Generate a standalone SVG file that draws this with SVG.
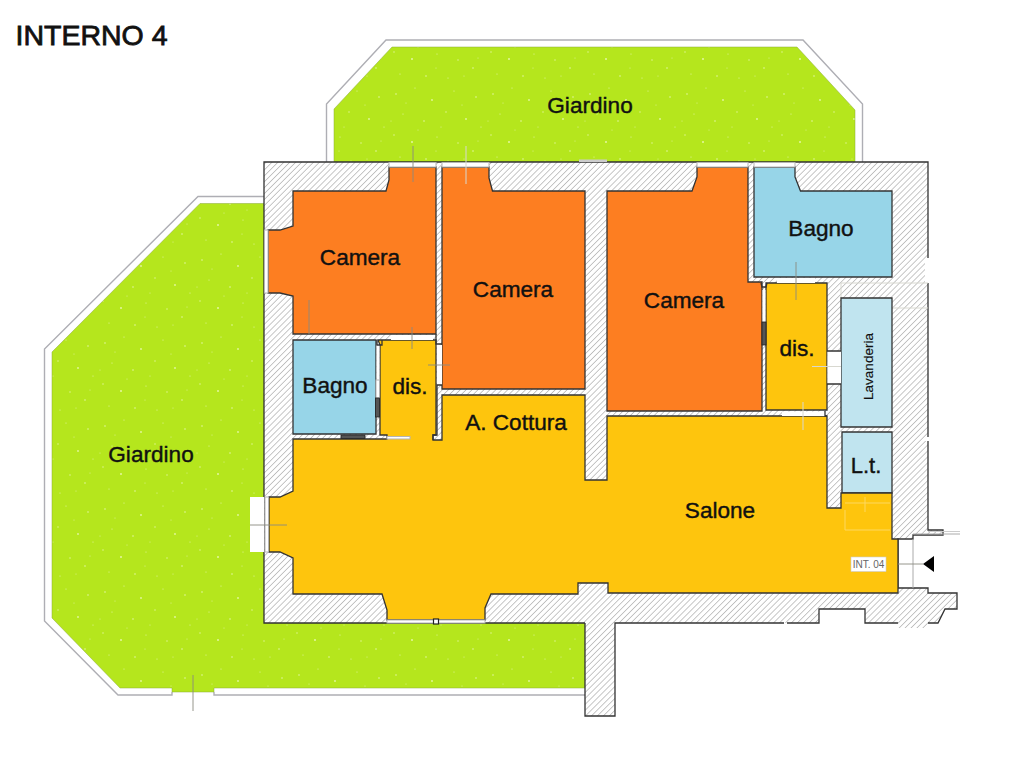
<svg xmlns="http://www.w3.org/2000/svg" width="1024" height="768" viewBox="0 0 1024 768">
<style>
text{font-family:"Liberation Sans",Arial,sans-serif;fill:#111;text-anchor:middle;font-size:22.600px;stroke:#111;stroke-width:.4}
.room{stroke:#333;stroke-width:1.3;stroke-linejoin:miter}
.orange{fill:#fd7e21}.yellow{fill:#fec50d}.blue{fill:#97d5e8}.pale{fill:#c0e4ef}
.garden{fill:url(#speckle);stroke:#8aa83a;stroke-width:.5}
.fence{fill:none;stroke:#aeaeb4;stroke-width:1.4}
.gap{fill:#fff;stroke:none}
.edge{fill:none;stroke:#333;stroke-width:1.3}
.tick{fill:none;stroke:#8a8a80;stroke-width:.9}
.lite{fill:none;stroke:#d8d8d0;stroke-width:1}
.glass{fill:#fff;stroke:#b5b5b5;stroke-width:1}
.dark{fill:#555;stroke:#222;stroke-width:.8}
.faint{fill:none;stroke:#fdd860;stroke-width:1}
</style>
<defs>
<pattern id="hatch" width="4.200" height="4.200" patternUnits="userSpaceOnUse" patternTransform="rotate(45)">
<rect width="4.200" height="4.200" fill="#fff"/><line x1="0" y1="0" x2="0" y2="4.200" stroke="#aaa" stroke-width="1.300"/>
</pattern>
<pattern id="speckle" width="97" height="83" patternUnits="userSpaceOnUse">
<rect width="97" height="83" fill="#b5e61d"/>
<g fill="#e4f7a0">
<circle cx="8" cy="11" r=".8"/><circle cx="27" cy="5" r=".6"/><circle cx="44" cy="17" r=".9"/><circle cx="66" cy="8" r=".6"/><circle cx="88" cy="14" r=".8"/><circle cx="15" cy="31" r=".6"/><circle cx="36" cy="38" r=".8"/><circle cx="58" cy="29" r=".7"/><circle cx="78" cy="36" r=".9"/><circle cx="93" cy="44" r=".6"/><circle cx="6" cy="52" r=".7"/><circle cx="24" cy="59" r="1"/><circle cx="49" cy="54" r=".6"/><circle cx="70" cy="60" r=".7"/><circle cx="85" cy="68" r=".8"/><circle cx="12" cy="74" r=".6"/><circle cx="38" cy="76" r=".8"/><circle cx="60" cy="78" r=".6"/><circle cx="18" cy="20" r=".5"/><circle cx="53" cy="44" r=".5"/><circle cx="74" cy="22" r=".5"/><circle cx="30" cy="47" r=".5"/><circle cx="90" cy="58" r=".5"/><circle cx="48" cy="68" r=".5"/><circle cx="3" cy="38" r=".5"/><circle cx="76" cy="76" r=".5"/>
</g>
</pattern>
</defs>

<text x="91.500" y="45" style="font-size:28.500px;stroke-width:.8">INTERNO 4</text>

<g id="gardens">
<path class="fence" d="M326.500,162V104L386,40H803L862.500,104V162"/>
<polygon class="garden" points="334,162 334,109 392,47 797,47 855,110 855,162"/>
<path class="fence" d="M264,196.500H198L44.500,349V621L118,695H172V692M214,692V695H585"/>
<polygon class="garden" points="264,203.500 200,203.500 52,352 52,618 120,688 172,688 172,692 214,692 214,688 585,688 585,623 264,623"/>
</g>

<g id="walls">
<polygon points="264,162 928,162 928,530 943,530 943,535 913,535 913,539 898,539 898,588 928,588 928,593 957,593 957,609 945,609 938,623 928,623 928,628 898,628 898,623 865,623 865,609 819,609 819,623 615,623 615,716 585,716 585,623 264,623" fill="url(#hatch)"/>
<path class="edge" d="M585,623H264V162H928V258M928,283V437M928,441V530H943V535H913V539H898V588H928V593H957V609H945L938,623H928M898,623H865V609H819V623H787M784,623H615V716H585V623"/>
<rect class="gap" x="925" y="258" width="8" height="25"/>
<rect class="gap" x="925" y="437" width="8" height="4"/>
<rect x="579" y="159.500" width="28" height="2.500" fill="#ccc"/>
<path class="lite" d="M841,283H928M892,308H928M841,283V298"/>
<line x1="913" y1="534" x2="960" y2="534" class="lite" style="stroke:#aaa"/>
<line x1="928" y1="531.500" x2="960" y2="531.500" class="lite" style="stroke:#ccc"/>
<line x1="913" y1="539" x2="913" y2="588" class="lite" style="stroke:#aaa"/>
</g>

<g id="rooms">
<polygon id="camera-1" class="room orange" points="386,191 389,180 389,167 436,167 436,334 293,334 293,296 280,293 268,293 268,230 280,230 293,226 293,191"/>
<polygon id="camera-2" class="room orange" points="442,167 489,167 489,178 492.500,191 585,191 585,389 442,389"/>
<polygon id="camera-3" class="room orange" points="607,191 692,191 697,177 697,167 748,167 748,282 762,282 762,411 607,411"/>
<polygon id="bagno-1" class="room blue" points="293,340 376,340 376,434 293,434"/>
<polygon id="bagno-2" class="room blue" points="754,167 795,167 795,177 800.500,191 892,191 892,277 754,277"/>
<polygon id="dis-2" class="room yellow" points="766,283 827,283 827,410 766,410"/>
<polygon id="lavanderia" class="room pale" points="841,298 892,298 892,427 841,427"/>
<polygon id="lt" class="room pale" points="842,432 892,432 892,493 842,493"/>
<polygon id="salone" class="room yellow" points="293,439 387,439 387,435 380,435 380,345 378,340 436,340 436,345 436,435 433,435 433,440 442,440 442,395 585,395 585,480 607,480 607,416 827,416 827,508 841,508 841,493 892,493 892,539 898,539 898,593 608,593 608,583 578,583 578,594 491,594 485,608 485,620 387,620 387,610 382,594 293,594 293,558 280,552 269,552 269,497 280,497 293,491"/>
</g>

<g id="openings">
<rect class="glass" x="389" y="162.500" width="47" height="4.500"/>
<rect class="glass" x="442" y="162.500" width="47" height="4.500"/>
<rect class="glass" x="697" y="162.500" width="51" height="4.500"/>
<rect class="glass" x="754" y="162.500" width="41" height="4.500"/>
<rect class="glass" x="264.500" y="230" width="3.500" height="63"/>
<rect class="glass" x="265" y="497" width="3.500" height="55"/>
<rect class="gap" x="250" y="497" width="14" height="55"/>
<rect class="glass" x="387" y="620" width="98" height="3"/>
<rect x="433.500" y="619" width="5" height="5" fill="#fff" stroke="#222" stroke-width="1.200"/>
<rect class="gap" x="391" y="335" width="42" height="5"/>
<rect class="gap" x="437" y="345" width="5" height="40"/>
<rect class="gap" x="376.500" y="345" width="3" height="35"/>
<rect class="glass" x="376" y="380" width="3.500" height="18"/>
<rect class="dark" x="375.500" y="398" width="4" height="19"/>
<rect class="dark" x="341" y="435" width="24" height="3.500"/>
<rect class="glass" x="387" y="436.500" width="23" height="2.500"/>
<rect class="gap" x="777" y="278" width="38" height="5"/>
<rect class="gap" x="782" y="411.500" width="43" height="4.500"/>
<rect class="gap" x="762.500" y="290" width="3" height="32"/>
<rect class="dark" x="762" y="322" width="4" height="23"/>
<rect class="gap" x="827.500" y="351" width="13.500" height="33"/>
<path class="edge" d="M827,351H841M827,384H841M377,340V345H382V340M436,334V344H442M433,440V435H437V385H442M761,283L762,287H766L767,283M825,411V416H827"/>
</g>

<g id="marks">
<path class="tick" d="M413,146V182M309,300V334M412,327V349M428,365H450M796,262V300M250,525H287M193,675V711M898,564H923"/>
<path class="lite" d="M466,146V184M812,366.500H841M803,402V430"/>
<path class="faint" d="M845,503H890M845,530H890M845,510V530M865,497V512"/>
<polygon points="923,564 934,556 934,572" fill="#000"/>
<rect x="851" y="557" width="35" height="14.500" fill="#fff" stroke="#ccc" stroke-width=".6"/>
<text x="868.500" y="568" style="font-size:10px;fill:#666;stroke:none">INT. 04</text>
</g>

<g id="labels">
<text x="590" y="113">Giardino</text>
<text x="151" y="462">Giardino</text>
<text x="360" y="265">Camera</text>
<text x="513" y="297">Camera</text>
<text x="684" y="308">Camera</text>
<text x="821" y="236">Bagno</text>
<text x="335" y="393">Bagno</text>
<text x="410" y="394">dis.</text>
<text x="797" y="356">dis.</text>
<text x="516" y="430">A. Cottura</text>
<text x="720" y="518">Salone</text>
<text x="866" y="473" style="font-size:22px">L.t.</text>
<text transform="translate(872.500,366.500) rotate(-90)" style="font-size:13.500px;stroke-width:.15">Lavanderia</text>
</g>
</svg>
